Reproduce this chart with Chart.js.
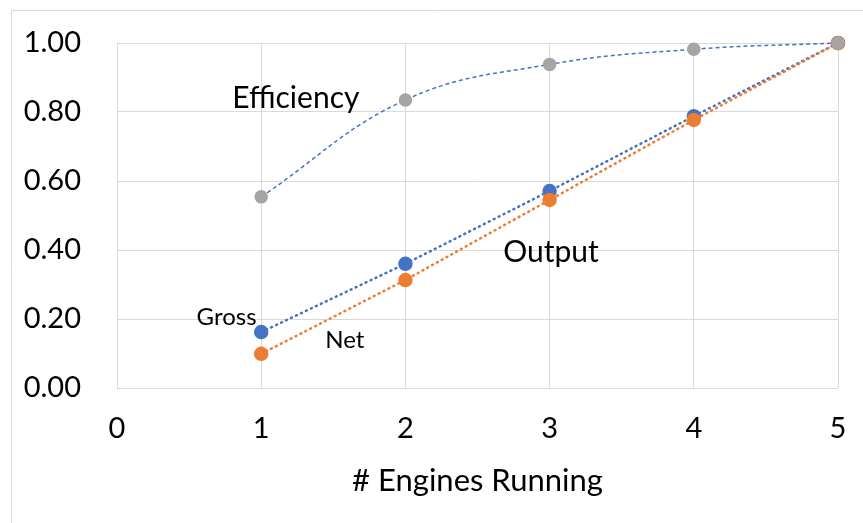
<!DOCTYPE html>
<html>
<head>
<meta charset="utf-8">
<script src="https://cdn.jsdelivr.net/npm/chart.js@4"></script>
<style>
  body { margin: 0; background: #fff; }
  #wrap { width: 863px; height: 523px; }
</style>
</head>
<body>
<div id="wrap"><canvas id="engineChart" width="863" height="523"></canvas></div>
<script>
// Data
const engines = [1, 2, 3, 4, 5];
const efficiency = [0.554, 0.835, 0.938, 0.982, 1.0];
const grossOutput = [0.162, 0.360, 0.571, 0.788, 1.0];
const netOutput = [0.099, 0.313, 0.545, 0.777, 1.0];

// Text labels placed in data coordinates
const labelText = ['Efficiency', 'Output', 'Gross', 'Net'];
const labelX = [1.24, 3.01, 0.76, 1.58];
const labelY = [0.84, 0.394, 0.206, 0.139];
const labelSize = [30, 30, 24, 24];

const FONT = 'Lato, "Open Sans", sans-serif';
const BLUE = '#4472C4';
const ORANGE = '#ED7D31';
const GREY = '#A5A5A5';
const GRID = '#d9d9d9';

function toPoints(values) {
    return engines.map((x, i) => ({ x: x, y: values[i] }));
}

// Light frame on the top and left edges, like the original chart box
const framePlugin = {
    id: 'frame',
    beforeDraw(chart) {
        const ctx = chart.ctx;
        ctx.save();
        ctx.strokeStyle = GRID;
        ctx.lineWidth = 1;
        ctx.beginPath();
        ctx.moveTo(11.5, chart.height);
        ctx.lineTo(11.5, 10.5);
        ctx.lineTo(chart.width, 10.5);
        ctx.stroke();
        ctx.restore();
    }
};

// In-chart text labels
const labelPlugin = {
    id: 'labels',
    afterDatasetsDraw(chart) {
        const ctx = chart.ctx;
        const xs = chart.scales.x;
        const ys = chart.scales.y;
        ctx.save();
        ctx.fillStyle = '#000';
        ctx.textAlign = 'center';
        ctx.textBaseline = 'middle';
        labelText.forEach((t, i) => {
            ctx.font = labelSize[i] + 'px ' + FONT;
            ctx.fillText(t, xs.getPixelForValue(labelX[i]), ys.getPixelForValue(labelY[i]));
        });
        ctx.restore();
    }
};

// lower "order" is painted on top: efficiency, then net, then gross
new Chart(document.getElementById('engineChart'), {
    type: 'scatter',
    data: {
        datasets: [{
            label: 'Efficiency',
            order: 0,
            data: toPoints(efficiency),
            showLine: true,
            clip: false,
            borderColor: BLUE,
            borderWidth: 1.5,
            borderDash: [4, 3],
            tension: 0.4,
            capBezierPoints: false,
            pointRadius: 6,
            pointBackgroundColor: GREY,
            pointBorderColor: GREY
        }, {
            label: 'Net',
            order: 1,
            data: toPoints(netOutput),
            showLine: true,
            clip: false,
            borderColor: ORANGE,
            borderWidth: 2.5,
            borderDash: [1, 4.5],
            borderCapStyle: 'round',
            pointRadius: 6,
            pointBackgroundColor: ORANGE,
            pointBorderColor: ORANGE
        }, {
            label: 'Gross',
            order: 2,
            data: toPoints(grossOutput),
            showLine: true,
            clip: false,
            borderColor: BLUE,
            borderWidth: 2.5,
            borderDash: [1, 4.5],
            borderCapStyle: 'round',
            pointRadius: 6,
            pointBackgroundColor: BLUE,
            pointBorderColor: BLUE
        }]
    },
    options: {
        responsive: false,
        animation: false,
        layout: {
            padding: { left: 0, top: 43, right: 25, bottom: 23 }
        },
        plugins: {
            legend: { display: false },
            tooltip: { enabled: false }
        },
        scales: {
            x: {
                type: 'linear',
                min: 0,
                max: 5,
                border: { display: false },
                grid: { color: GRID, lineWidth: 1, drawTicks: false },
                ticks: {
                    stepSize: 1,
                    padding: 23,
                    color: '#000',
                    font: { family: FONT, size: 29 }
                },
                title: {
                    display: true,
                    text: '# Engines Running',
                    color: '#000',
                    padding: 0,
                    font: { family: FONT, size: 31 }
                },
                afterFit(scale) {
                    scale.height = 112;
                    scale.paddingLeft = 0;
                    scale.paddingRight = 0;
                }
            },
            y: {
                min: 0,
                max: 1,
                border: { display: false },
                grid: { color: GRID, lineWidth: 1, drawTicks: false },
                ticks: {
                    stepSize: 0.2,
                    padding: 36,
                    color: '#000',
                    font: { family: FONT, size: 29 },
                    callback: v => v.toFixed(2)
                },
                afterFit(scale) {
                    scale.width = 117;
                    scale.paddingTop = 0;
                    scale.paddingBottom = 0;
                }
            }
        }
    },
    plugins: [framePlugin, labelPlugin]
});
</script>
</body>
</html>
